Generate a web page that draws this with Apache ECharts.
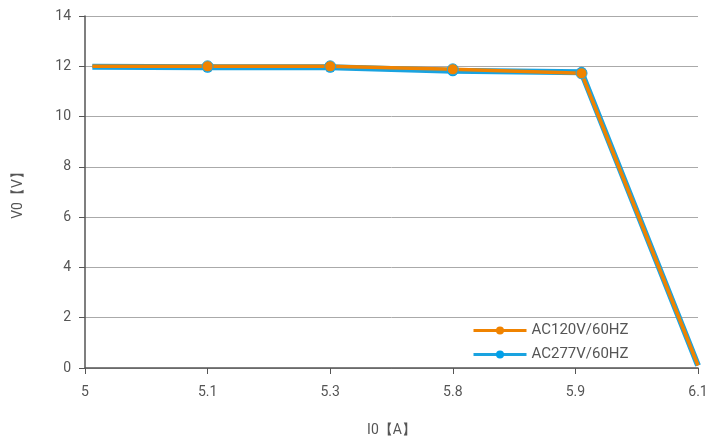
<!DOCTYPE html>
<html><head><meta charset="utf-8">
<script src="https://cdn.jsdelivr.net/npm/echarts@6/dist/echarts.min.js"></script>
<style>html,body{margin:0;padding:0;background:#fff}#c{width:713px;height:442px}</style>
</head><body><div id="c"></div>
<script>
var categories = ['5','5.1','5.3','5.8','5.9','6.1'];
var xPos = [0.06, 1, 2, 3, 4.05, 5];
var seriesNames = ['AC120V/60HZ','AC277V/60HZ'];
var orangeVals = [12.0, 12.0, 12.0, 11.88, 11.72, 0.1];
var blueVals = [11.98, 11.96, 11.96, 11.82, 11.76, 0.1];
var showMarker = [false, true, true, true, true, false];

function pts(vals){
  return vals.map(function(v,i){
    return {value:[xPos[i], v], symbolSize: showMarker[i] ? 11 : 0};
  });
}
var chart = echarts.init(document.getElementById('c'));
var font = 'Roboto';
chart.setOption({
  animation:false,
  grid:{left:85,right:15,top:16,bottom:74},
  xAxis:{type:'value',min:0,max:5,interval:1,
    name:'I0【A】',nameLocation:'middle',nameGap:55,
    nameTextStyle:{color:'#555',fontSize:14,fontFamily:font},
    axisLine:{lineStyle:{color:'#555',width:1.5}},
    axisTick:{show:true,length:6,lineStyle:{color:'#555'}},
    axisLabel:{color:'#555',fontSize:14,fontFamily:font,margin:17,
      formatter:function(v){return categories[Math.round(v)];}},
    splitLine:{show:false}},
  yAxis:{type:'value',min:0,max:14,interval:2,
    name:'V0【V】',nameLocation:'middle',nameGap:60,nameRotate:90,
    nameTextStyle:{color:'#555',fontSize:14,fontFamily:font},
    axisLine:{show:true,lineStyle:{color:'#555',width:1.5}},
    axisTick:{show:true,length:6,lineStyle:{color:'#555'}},
    axisLabel:{color:'#555',fontSize:14,fontFamily:font,margin:14},
    splitLine:{lineStyle:{color:'#aaa',width:1}}},
  legend:{orient:'vertical',left:467,top:318,itemWidth:53,itemHeight:10,itemGap:9,
    textStyle:{color:'#555',fontSize:15,fontFamily:font},
    itemStyle:{borderWidth:0},lineStyle:{width:3},
    data:seriesNames},
  series:[
    {name:seriesNames[0],type:'line',z:3,data:pts(orangeVals),symbol:'circle',
      color:'#F08300',lineStyle:{width:3.5,color:'#F08300'},
      itemStyle:{color:'#F08300',borderColor:'#2AA6DA',borderWidth:1}},
    {name:seriesNames[1],type:'line',z:2,data:pts(blueVals),symbol:'circle',
      color:'#00A0E9',lineStyle:{width:6,color:'#1AA3E0'},
      itemStyle:{color:'#00A0E9'}}
  ]
});
</script></body></html>
